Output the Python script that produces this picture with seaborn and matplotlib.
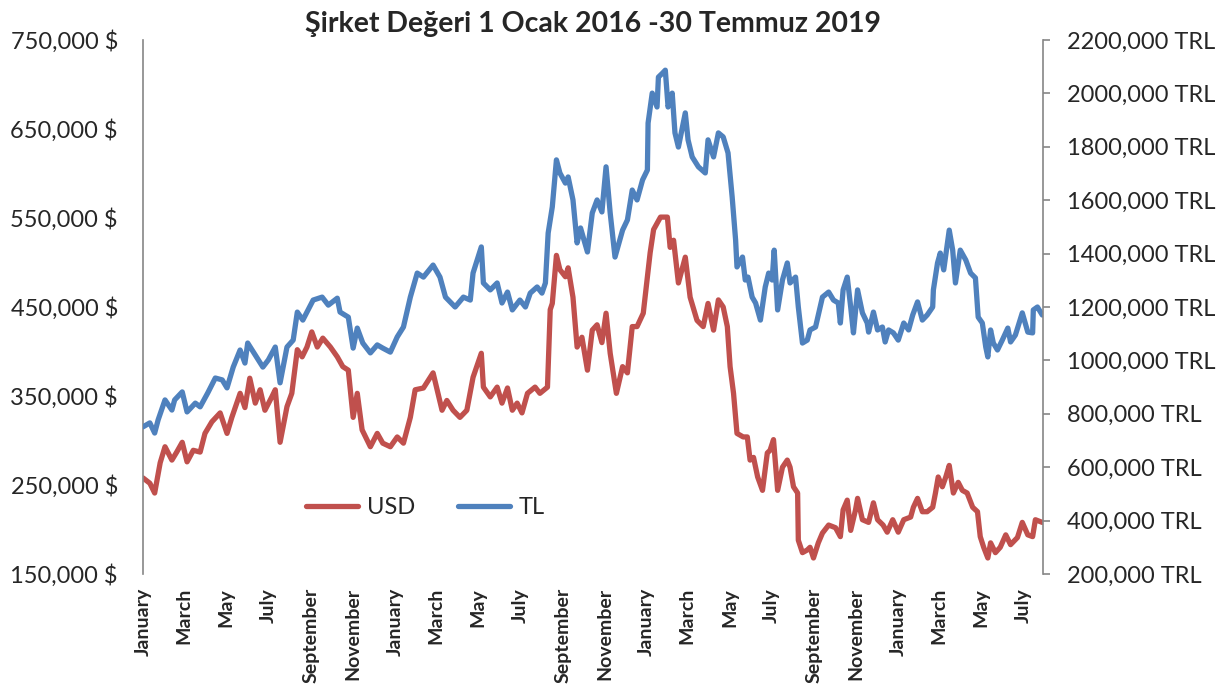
import pandas as pd
import seaborn as sns
import matplotlib.pyplot as plt
import matplotlib.dates as mdates
from matplotlib.ticker import FuncFormatter
from matplotlib.lines import Line2D

# gün sayısı (1 Ocak 2016'dan itibaren) ve değerler (bin)
usd_day = [0, 10, 17, 25, 32, 42, 49, 57, 64, 73, 83, 90, 100, 112, 122, 129, 141, 148, 155, 163,
           170, 177, 187, 192, 199, 209, 216, 224, 231, 238, 245, 253, 261, 272, 282, 290, 298, 305,
           311, 318, 330, 340, 348, 359, 369, 378, 388, 395, 407, 421, 434, 441, 450, 460, 470, 479,
           491, 494, 504, 514, 521, 529, 536, 543, 550, 558, 569, 576, 587, 591, 594, 600, 605, 613,
           617, 624, 630, 637, 645, 652, 659, 666, 672, 678, 687, 696, 703, 710, 717, 726, 736, 741,
           751, 761, 765, 770, 777, 787, 794, 804, 813, 820, 828, 835, 842, 848, 852, 857, 862, 871,
           877, 881, 886, 892, 899, 906, 910, 915, 921, 928, 935, 939, 944, 950, 951, 957, 964, 968,
           973, 980, 986, 995, 1005, 1012, 1016, 1022, 1027, 1034, 1037, 1044, 1053, 1060, 1066, 1074,
           1080, 1088, 1096, 1104, 1114, 1118, 1124, 1131, 1138, 1146, 1150, 1154, 1160, 1165, 1170,
           1176, 1183, 1189, 1196, 1204, 1211, 1215, 1220, 1226, 1230, 1237, 1244, 1252, 1259, 1269,
           1276, 1284, 1291, 1295, 1305]
usd_k = [258, 252, 241, 275, 293, 278, 287, 298, 276, 289, 287, 308, 321, 331, 308, 326, 353, 337, 370, 342,
         357, 334, 349, 357, 298, 338, 353, 402, 394, 405, 422, 405, 415, 405, 394, 383, 379, 326,
         353, 312, 293, 308, 297, 293, 304, 297, 326, 357, 359, 376, 334, 345, 334, 326, 334, 371,
         398, 360, 349, 360, 342, 359, 334, 342, 331, 353, 360, 353, 360, 447, 454, 508, 492, 484,
         494, 461, 405, 416, 379, 424, 430, 410, 443, 398, 353, 383, 376, 428, 428, 443, 511, 537,
         551, 551, 517, 525, 477, 506, 461, 435, 428, 454, 424, 458, 450, 428, 383, 353, 308, 304,
         304, 278, 281, 259, 244, 286, 289, 301, 244, 270, 278, 270, 248, 241, 188, 174, 177, 180,
         168, 185, 196, 205, 202, 192, 222, 233, 199, 222, 235, 211, 208, 230, 211, 205,
         197, 211, 197, 211, 214, 225, 235, 220, 220, 225, 241, 259, 248, 259, 272,
         241, 253, 244, 241, 225, 220, 192, 180, 168, 185, 174, 180, 194, 183, 191,
         208, 194, 192, 211, 208]

tl_day = [0, 10, 17, 22, 32, 42, 46, 57, 64, 76, 83, 94, 105, 115, 122, 131, 141, 148, 152, 163,
          174, 182, 192, 199, 209, 218, 224, 232, 247, 260, 269, 282, 286, 298, 305, 311, 319, 330,
          340, 348, 359, 369, 378, 388, 398, 407, 421, 431, 439, 453, 465, 475, 479, 491, 494, 504,
          514, 521, 529, 536, 547, 555, 562, 572, 579, 584, 588, 594, 600, 605, 613, 617, 624, 630,
          635, 645, 652, 659, 666, 672, 678, 685, 696, 703, 710, 717, 725, 732, 733, 739, 746, 748,
          754, 758, 762, 768, 772, 777, 787, 791, 797, 806, 816, 820, 828, 835, 842, 849, 855, 860,
          862, 870, 874, 878, 884, 889, 896, 903, 908, 913, 916, 921, 928, 935, 939, 947, 951, 957,
          964, 968, 976, 980, 986, 995, 1002, 1009, 1012, 1016, 1022, 1027, 1031, 1037, 1044, 1051,
          1053, 1060, 1066, 1073, 1077, 1082, 1089, 1096, 1104, 1111, 1117, 1124, 1131, 1138, 1146,
          1147, 1153, 1157, 1162, 1170, 1175, 1179, 1186, 1194, 1201, 1208, 1212, 1218, 1223, 1226,
          1230, 1234, 1240, 1247, 1255, 1259, 1266, 1276, 1284, 1291, 1292, 1298, 1305]
tl_k = [751, 766, 728, 777, 852, 814, 852, 882, 807, 840, 826, 878, 934, 927, 897, 975, 1039, 990, 1065, 1020,
        975, 1002, 1050, 916, 1050, 1076, 1181, 1151, 1226, 1237, 1207, 1233, 1181, 1162, 1046, 1121, 1065, 1028,
        1058, 1046, 1031, 1088, 1125, 1237, 1327, 1312, 1357, 1312, 1237, 1200, 1237, 1226, 1327, 1425, 1290, 1264,
        1290, 1215, 1256, 1189, 1226, 1200, 1252, 1275, 1252, 1290, 1477, 1575, 1751, 1702, 1664, 1687, 1601, 1440,
        1496, 1406, 1552, 1601, 1556, 1725, 1552, 1387, 1488, 1526, 1638, 1601, 1676, 1713, 1889, 2001, 1949, 2061,
        2076, 2087, 1949, 2001, 1852, 1799, 1927, 1826, 1762, 1725, 1702, 1826, 1762, 1852, 1837, 1777, 1612, 1451,
        1350, 1387, 1301, 1312, 1237, 1215, 1151, 1275, 1327, 1301, 1413, 1189, 1301, 1365, 1290, 1312, 1200, 1065,
        1076, 1114, 1125, 1170, 1237, 1256, 1226, 1215, 1140, 1264, 1312, 1200, 1103, 1264, 1178, 1140,
        1106, 1181, 1114, 1125, 1069, 1114, 1103, 1076, 1140, 1114, 1170, 1219, 1151, 1170, 1200,
        1264, 1365, 1402, 1339, 1488, 1413, 1290, 1413, 1376, 1327, 1309, 1162, 1140, 1050, 1013,
        1114, 1065, 1039, 1076, 1121, 1069, 1095, 1178, 1106, 1103, 1189, 1200, 1170]

usd_ticks = [150000, 250000, 350000, 450000, 550000, 650000, 750000]
tl_ticks = [200000, 400000, 600000, 800000, 1000000, 1200000, 1400000, 1600000, 1800000, 2000000, 2200000]

start = pd.Timestamp('2016-01-01')
usd = pd.DataFrame({'tarih': start + pd.to_timedelta(usd_day, unit='D'),
                    'deger': [v * 1000 for v in usd_k]})
tl = pd.DataFrame({'tarih': start + pd.to_timedelta(tl_day, unit='D'),
                   'deger': [v * 1000 for v in tl_k]})

RED = '#C0504D'
BLUE = '#4F81BD'
GRAY = '#868686'
LW = 3.8

sns.set_style('white')
plt.rcParams['font.family'] = ['Lato', 'DejaVu Sans']

fig, ax = plt.subplots(figsize=(12.26, 6.93), dpi=100)
fig.subplots_adjust(left=0.1166, right=0.8507, top=0.9423, bottom=0.1717)
ax2 = ax.twinx()

sns.lineplot(data=usd, x='tarih', y='deger', ax=ax, color=RED, lw=LW)
sns.lineplot(data=tl, x='tarih', y='deger', ax=ax2, color=BLUE, lw=LW)

ax.set_xlim(start, pd.Timestamp('2019-07-30'))
ax.set_ylim(150000, 750000)
ax2.set_ylim(200000, 2200000)
ax.set_yticks(usd_ticks)
ax2.set_yticks(tl_ticks)

def fmt(unit):
    return FuncFormatter(lambda v, p: f"{int(v) // 1000},{int(v) % 1000:03d} {unit}")

ax.yaxis.set_major_formatter(fmt('$'))
ax2.yaxis.set_major_formatter(fmt('TRL'))

ax.xaxis.set_major_locator(mdates.MonthLocator(bymonth=[1, 3, 5, 7, 9, 11]))
ax.xaxis.set_major_formatter(mdates.DateFormatter('%B'))

for a in (ax, ax2):
    a.set_xlabel('')
    a.set_ylabel('')
    a.grid(False)
    for s in a.spines.values():
        s.set_visible(False)

ax.spines['left'].set_visible(True)
ax.spines['left'].set_color(GRAY)
ax.spines['left'].set_linewidth(1.2)
ax2.spines['right'].set_visible(True)
ax2.spines['right'].set_color(GRAY)
ax2.spines['right'].set_linewidth(1.2)

ax.tick_params(axis='y', length=0, pad=18, labelsize=17)
ax.tick_params(axis='x', length=0, pad=10, labelsize=14, labelrotation=90)
ax2.tick_params(axis='y', length=5, width=1.2, color=GRAY, pad=12, labelsize=17)

ax.set_title('Şirket Değeri 1 Ocak 2016 -30 Temmuz 2019', fontsize=20.5, fontweight='bold', pad=6)

handles = [Line2D([], [], color=RED, lw=LW), Line2D([], [], color=BLUE, lw=LW)]
fig.legend(handles, ['USD', 'TL'], loc='center', bbox_to_anchor=(0.347, 0.268), ncol=2,
           frameon=False, fontsize=17, handlelength=2.2, columnspacing=1.8, handletextpad=0.4)

fig.canvas.draw()
for lbl in ax.get_xticklabels():
    lbl.set_fontweight('bold')

fig.savefig('out.png', dpi=100)
